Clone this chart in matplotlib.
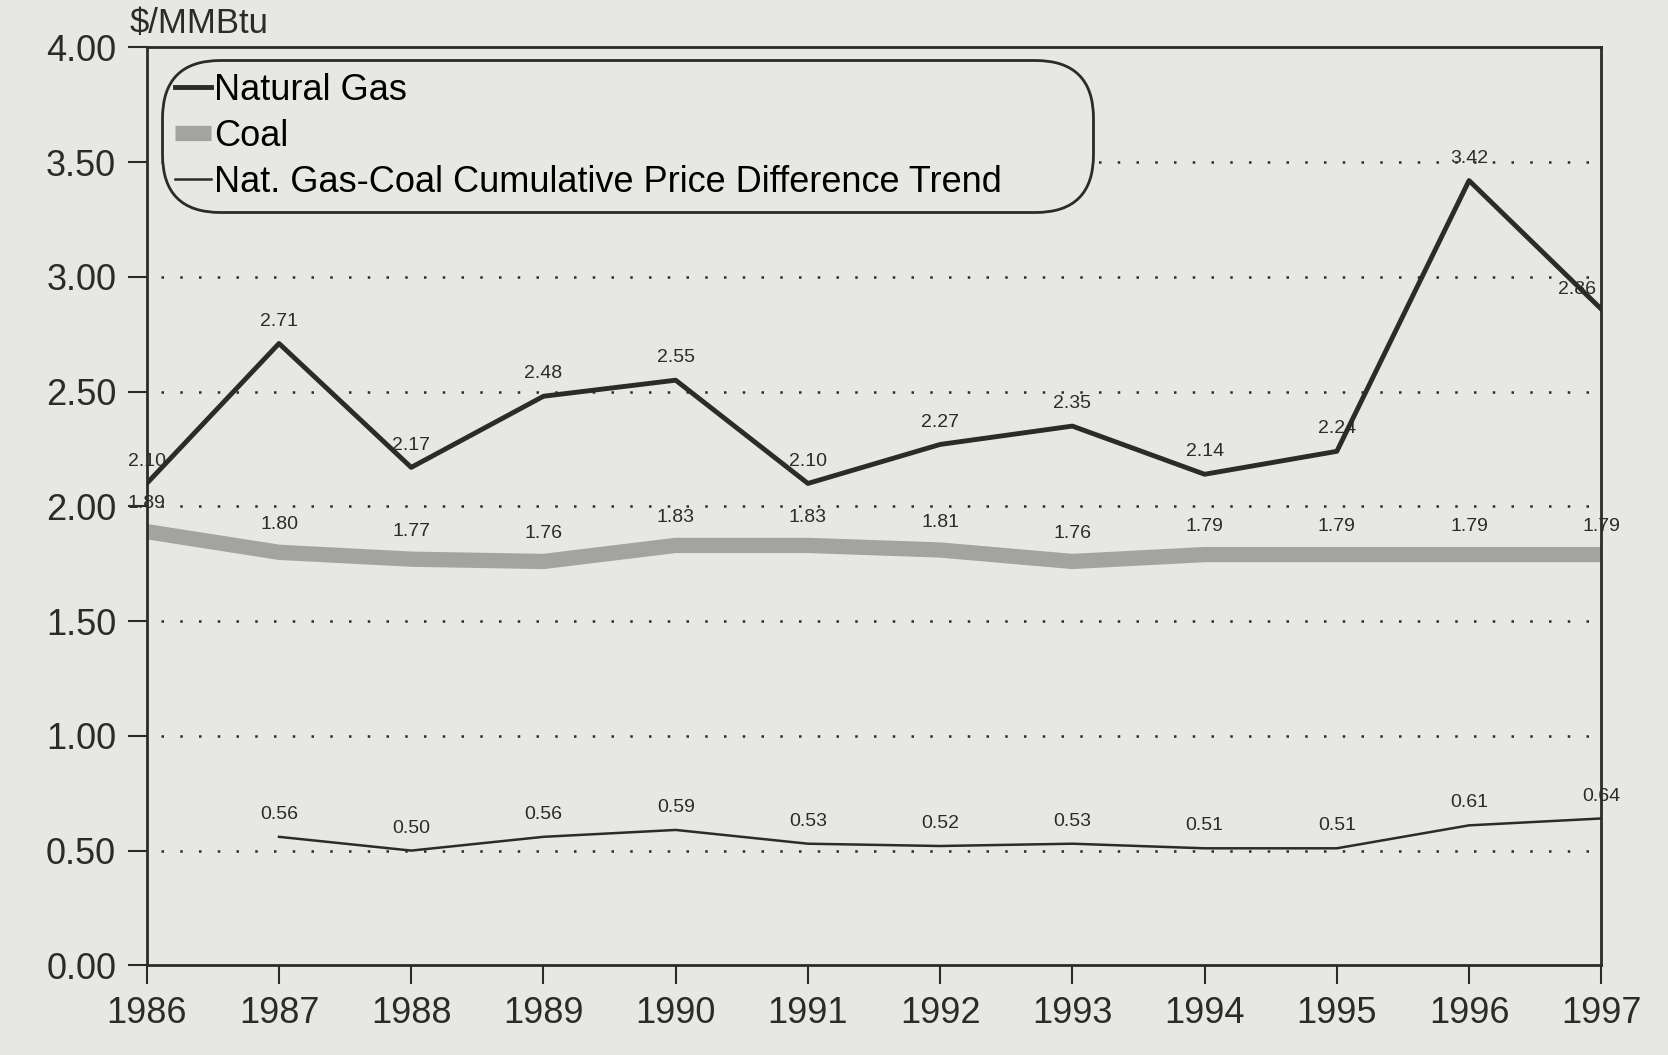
import numpy as np
import matplotlib.pyplot as plt
from matplotlib.lines import Line2D

plt.rcParams['font.family'] = ['Liberation Sans', 'DejaVu Sans']

# Data
years = [1986, 1987, 1988, 1989, 1990, 1991, 1992, 1993, 1994, 1995, 1996, 1997]
gas = [2.10, 2.71, 2.17, 2.48, 2.55, 2.10, 2.27, 2.35, 2.14, 2.24, 3.42, 2.86]
coal = [1.89, 1.80, 1.77, 1.76, 1.83, 1.83, 1.81, 1.76, 1.79, 1.79, 1.79, 1.79]
trend_years = years[1:]
trend = [0.56, 0.50, 0.56, 0.59, 0.53, 0.52, 0.53, 0.51, 0.51, 0.61, 0.64]
yticks = [0.0, 0.5, 1.0, 1.5, 2.0, 2.5, 3.0, 3.5, 4.0]

bg = '#e7e7e4'
dark = '#2b2b2b'
grey = '#a3a3a1'

fig = plt.figure(figsize=(16.68, 10.55), dpi=100, facecolor=bg)
ax = fig.add_axes([0.088, 0.085, 0.872, 0.87], facecolor=bg)

# dotted horizontal guides
for v in yticks[1:-1]:
    ax.axhline(v, xmin=0.01, xmax=0.995, color=dark, lw=1.8,
               linestyle=(0, (1, 6.5)), zorder=1)

ax.plot(years, coal, color=grey, lw=11, solid_capstyle='butt', zorder=2)
ax.plot(years, gas, color=dark, lw=3.5, zorder=3)
ax.plot(trend_years, trend, color=dark, lw=1.8, zorder=3)

# value labels
lab = dict(fontsize=14, color=dark, ha='center', va='bottom')
for i, (x, y) in enumerate(zip(years, gas)):
    if i == len(years) - 1:
        ax.annotate(f'{y:.2f}', (x, y), xytext=(-4, 8), textcoords='offset points',
                    **{**lab, 'ha': 'right'})
    else:
        ax.annotate(f'{y:.2f}', (x, y), xytext=(0, 10), textcoords='offset points', **lab)
for x, y in zip(years, coal):
    ax.annotate(f'{y:.2f}', (x, y), xytext=(0, 14), textcoords='offset points', **lab)
for x, y in zip(trend_years, trend):
    ax.annotate(f'{y:.2f}', (x, y), xytext=(0, 10), textcoords='offset points', **lab)

ax.set_xlim(1986, 1997)
ax.set_ylim(0, 4)
ax.set_xticks(years)
ax.set_xticklabels([str(y) for y in years])
ax.set_yticks(yticks)
ax.set_yticklabels([f'{v:.2f}' for v in yticks])
ax.tick_params(direction='out', length=14, width=1.5, colors=dark,
               labelsize=26, pad=8)
for s in ax.spines.values():
    s.set_color(dark)
    s.set_linewidth(2)

ax.text(-0.012, 1.008, '$/MMBtu', transform=ax.transAxes, fontsize=25,
        color=dark, ha='left', va='bottom')

handles = [Line2D([], [], color=dark, lw=3.5),
           Line2D([], [], color=grey, lw=11, solid_capstyle='butt'),
           Line2D([], [], color=dark, lw=1.8)]
leg = ax.legend(handles, ['Natural Gas', 'Coal',
                          'Nat. Gas-Coal Cumulative Price Difference Trend'],
                loc='upper left', bbox_to_anchor=(0.008, 0.0, 0.645, 0.99),
                mode='expand', borderaxespad=0.1, fontsize=26,
                handlelength=1.0, handletextpad=0.1, labelspacing=0.3,
                borderpad=0.35, fancybox=True, facecolor=bg, edgecolor=dark,
                framealpha=1)
leg.get_frame().set_linewidth(2)
leg.get_frame().set_boxstyle('round', pad=0.0, rounding_size=1.6)
leg.set_zorder(5)

fig.savefig('out.png', dpi=100, facecolor=bg)
